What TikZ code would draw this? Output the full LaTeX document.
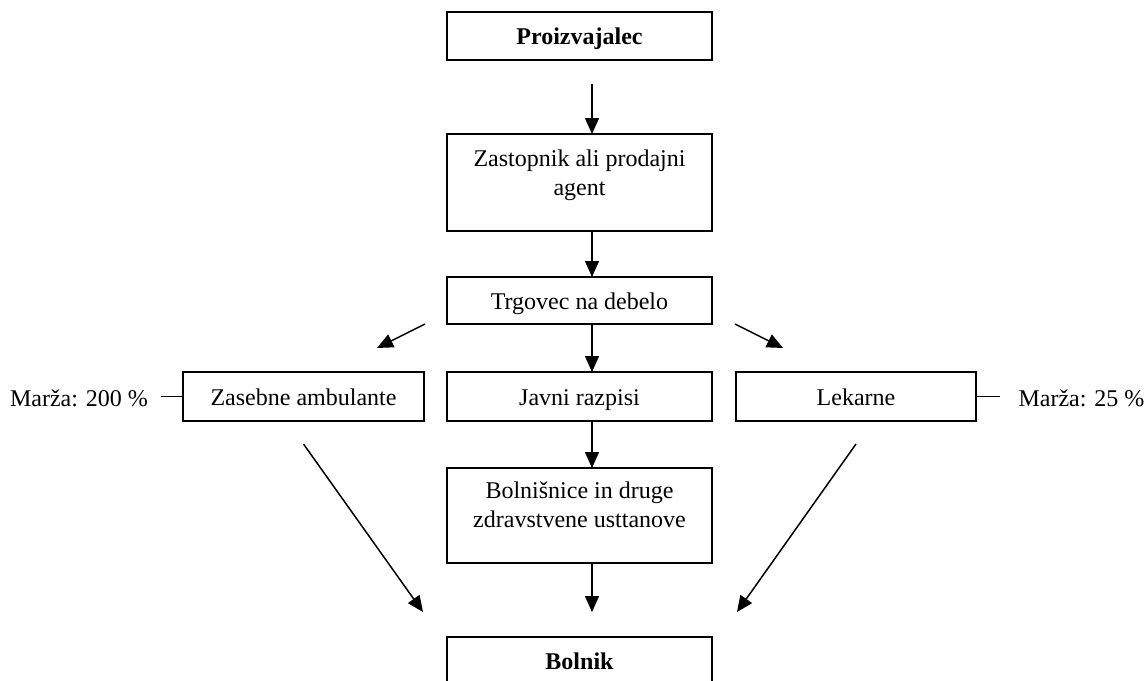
\documentclass[12pt,tikz,border=0pt]{standalone}
\usepackage{fontspec}
\setmainfont{Liberation Serif}
\usetikzlibrary{arrows.meta}
\begin{document}
\begin{tikzpicture}[x=0.5pt,y=-0.5pt]
\tikzset{ >={Triangle[length=8pt,width=7pt]}, box/.style={draw, line width=1pt, minimum width=132.5pt, inner sep=0pt, outer sep=0pt, text height=10pt, text depth=1.5pt}, arr/.style={->, line width=0.75pt}, txt/.style={align=center, inner sep=0pt} }

\useasboundingbox (0,0) rectangle (1148,681);

%\draw [lightgray, dashed](0,0) grid [step=50] (1148,681);

\node [box, minimum height=24pt, font=\bfseries] (prod) at (579.5,36) {Proizvajalec};
\node [box, minimum height=48.5pt] (zast) at (579.5,182.5) {};
\node [txt] (zastT) at (579.5,175) {Zastopnik ali prodajni\\agent};
\node [box, minimum height=23.5pt] (trg) at (579.5,300.5) {Trgovec na debelo};

\node [box, minimum width=120.5pt, minimum height=24.5pt] (zas) at (303.5,396.5) {Zasebne ambulante};
\node [box, minimum height=24.5pt] (javni) at (579.5,396.5) {Javni razpisi};
\node [box, minimum width=120pt, minimum height=24.5pt] (lek) at (856,396.5) {Lekarne};

\node [box, minimum height=47.5pt] (bol) at (579.5,515.5) {};
\node [txt] (bolT) at (579.5,505) {Bolnišnice in druge\\zdravstvene usttanove};
\node [box, minimum height=24pt, font=\bfseries] (pac) at (579.5,661) {Bolnik};

\node [inner sep=0pt] (m200) at (79,398) {Marža: 200 \%};
\node [inner sep=0pt] (m25) at (1081.5,398) {Marža: 25 \%};

\draw [arr] ([xshift=6.25pt,yshift=-12pt]prod.south) -- ([xshift=6.25pt]zast.north);
\draw [arr] ([xshift=6.25pt]zast.south) -- ([xshift=6.25pt]trg.north);
\draw [arr] ([xshift=6.25pt]trg.south) -- ([xshift=6.25pt]javni.north);
\draw [arr] ([xshift=6.25pt]javni.south) -- ([xshift=6.25pt]bol.north);
\draw [arr] ([xshift=6.25pt]bol.south) -- ([xshift=6.25pt,yshift=12.5pt]pac.north);

\draw [arr] ([xshift=-11pt]trg.south west) -- ([xshift=36.75pt,yshift=12pt]zas.north);
\draw [arr] ([xshift=11.5pt]trg.south east) -- ([xshift=-36.5pt,yshift=12pt]lek.north);

\draw [arr] ([yshift=-11.5pt]zas.south) -- ([xshift=-12pt,yshift=12.5pt]pac.north west);
\draw [arr] ([yshift=-11.5pt]lek.south) -- ([xshift=12.5pt,yshift=12.5pt]pac.north east);

\draw [line width=0.9pt] ([xshift=6.5pt]m200.east |- zas.west) -- (zas.west);
\draw [line width=0.9pt] ([xshift=-9pt]m25.west |- lek.east) -- (lek.east);

\end{tikzpicture}
\end{document}
